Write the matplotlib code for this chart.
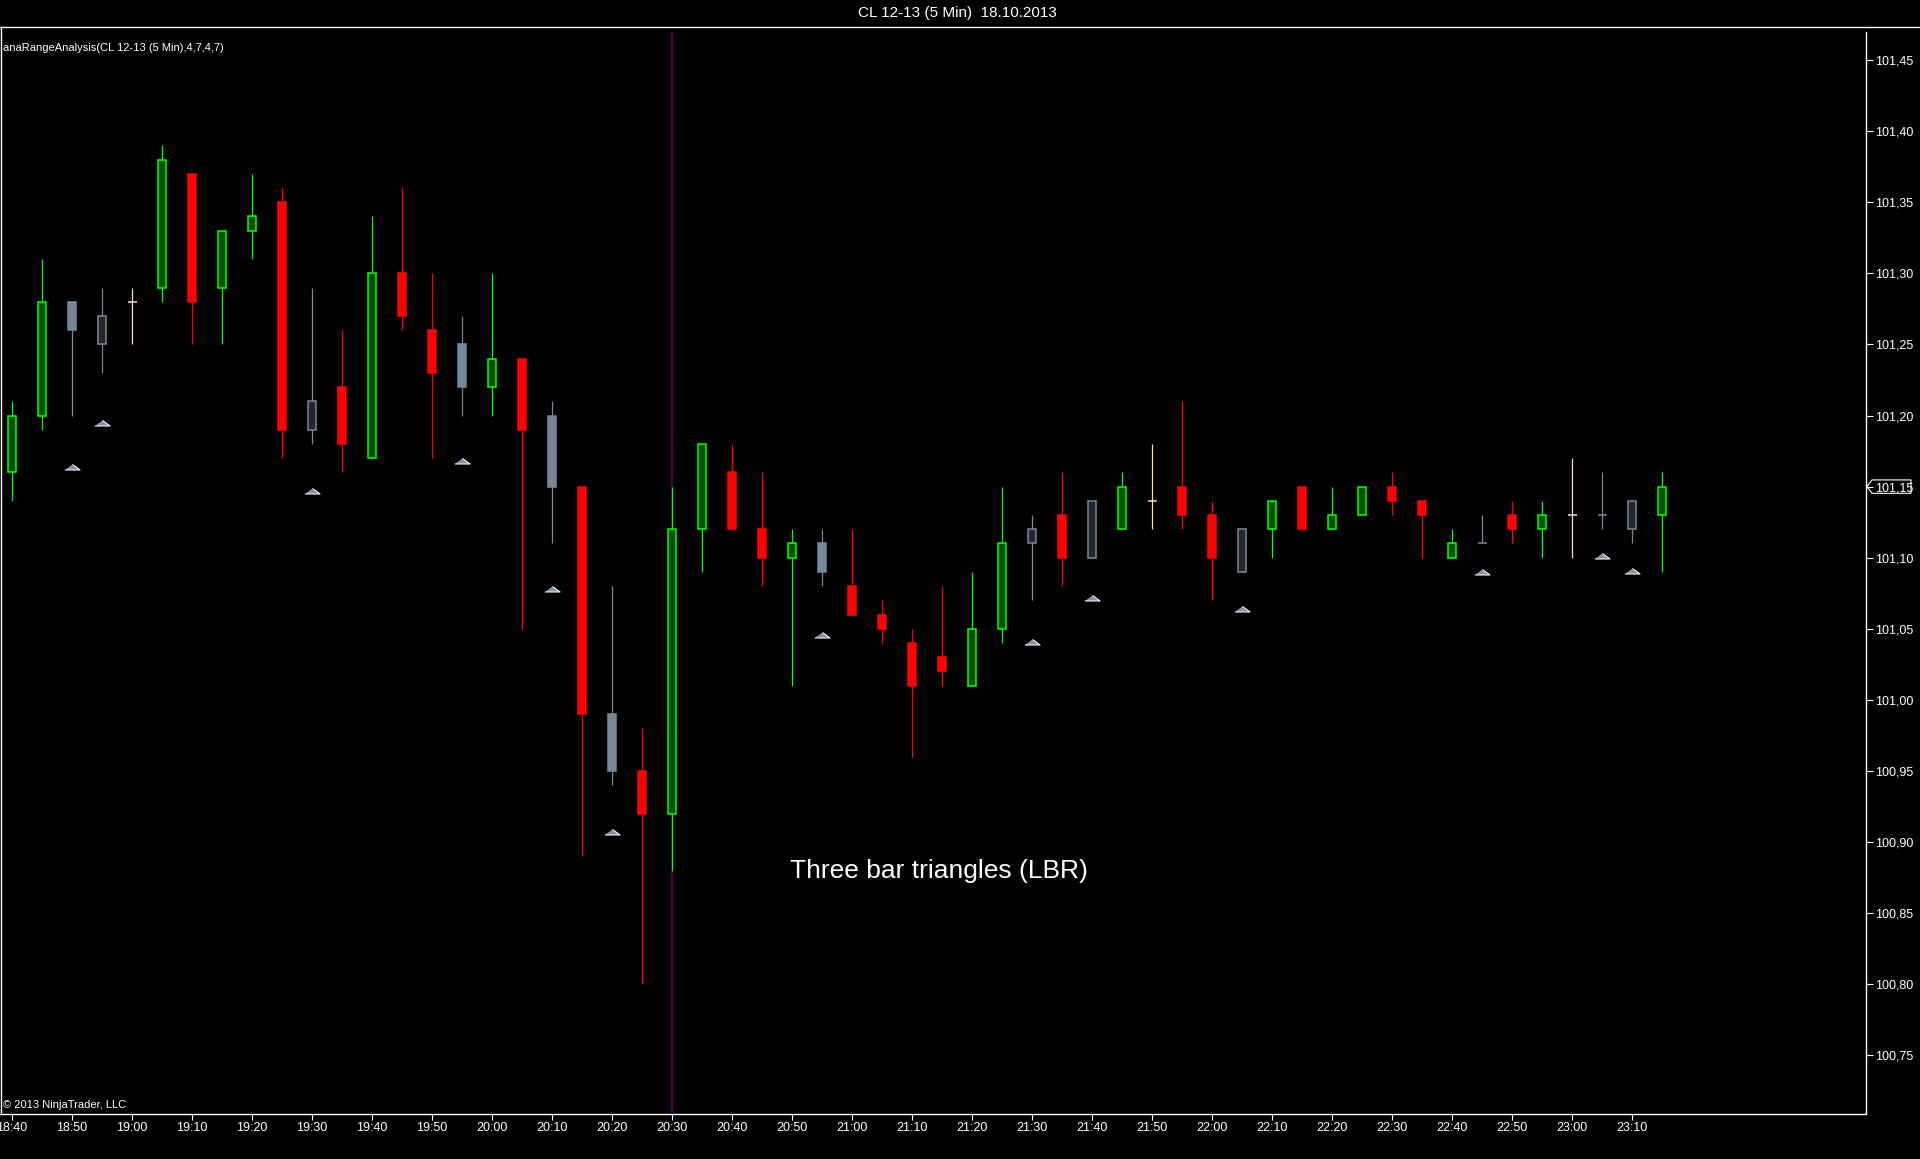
import matplotlib.pyplot as plt
from matplotlib.patches import Polygon
from matplotlib.lines import Line2D

plt.rcParams['font.family'] = ['Liberation Sans', 'DejaVu Sans']

# 5 min bars, CL 12-13, 18.10.2013 (18:40 .. 23:15)
opens = [101.16, 101.20, 101.28, 101.25, 101.28, 101.29, 101.37, 101.29, 101.33, 101.35,
         101.19, 101.22, 101.17, 101.30, 101.26, 101.25, 101.22, 101.24, 101.20, 101.15,
         100.99, 100.95, 100.92, 101.12, 101.16, 101.12, 101.10, 101.11, 101.08, 101.06,
         101.04, 101.03, 101.01, 101.05, 101.11, 101.13, 101.10, 101.12, 101.14, 101.15,
         101.13, 101.09, 101.12, 101.15, 101.12, 101.13, 101.15, 101.14, 101.10, 101.11,
         101.13, 101.12, 101.13, 101.13, 101.12, 101.13]
highs = [101.21, 101.31, 101.28, 101.29, 101.29, 101.39, 101.37, 101.33, 101.37, 101.36,
         101.29, 101.26, 101.34, 101.36, 101.30, 101.27, 101.30, 101.24, 101.21, 101.15,
         101.08, 100.98, 101.15, 101.18, 101.18, 101.16, 101.12, 101.12, 101.12, 101.07,
         101.05, 101.08, 101.09, 101.15, 101.13, 101.16, 101.14, 101.16, 101.18, 101.21,
         101.14, 101.12, 101.14, 101.15, 101.15, 101.15, 101.16, 101.14, 101.12, 101.13,
         101.14, 101.14, 101.17, 101.16, 101.14, 101.16]
lows = [101.14, 101.19, 101.20, 101.23, 101.25, 101.28, 101.25, 101.25, 101.31, 101.17,
        101.18, 101.16, 101.17, 101.26, 101.17, 101.20, 101.20, 101.05, 101.11, 100.89,
        100.94, 100.80, 100.88, 101.09, 101.12, 101.08, 101.01, 101.08, 101.06, 101.04,
        100.96, 101.01, 101.01, 101.04, 101.07, 101.08, 101.10, 101.12, 101.12, 101.12,
        101.07, 101.09, 101.10, 101.12, 101.12, 101.13, 101.13, 101.10, 101.10, 101.11,
        101.11, 101.10, 101.10, 101.12, 101.11, 101.09]
closes = [101.20, 101.28, 101.26, 101.27, 101.28, 101.38, 101.28, 101.33, 101.34, 101.19,
          101.21, 101.18, 101.30, 101.27, 101.23, 101.22, 101.24, 101.19, 101.15, 100.99,
          100.95, 100.92, 101.12, 101.18, 101.12, 101.10, 101.11, 101.09, 101.06, 101.05,
          101.01, 101.02, 101.05, 101.11, 101.12, 101.10, 101.14, 101.15, 101.14, 101.13,
          101.10, 101.12, 101.14, 101.12, 101.13, 101.15, 101.14, 101.13, 101.11, 101.11,
          101.12, 101.13, 101.13, 101.13, 101.14, 101.15]

# bars flagged by the indicator (drawn grey, triangle below)
flag_bars = [2, 3, 10, 15, 18, 20, 27, 34, 36, 41, 49, 53, 54]
flag_prices = [101.164, 101.195, 101.147, 101.168, 101.078, 100.907, 101.046,
               101.041, 101.072, 101.064, 101.090, 101.101, 101.091]

tick_labels = ['18:40', '18:50', '19:00', '19:10', '19:20', '19:30', '19:40', '19:50',
               '20:00', '20:10', '20:20', '20:30', '20:40', '20:50', '21:00', '21:10',
               '21:20', '21:30', '21:40', '21:50', '22:00', '22:10', '22:20', '22:30',
               '22:40', '22:50', '23:00', '23:10']
price_ticks = [100.75, 100.80, 100.85, 100.90, 100.95, 101.00, 101.05, 101.10,
               101.15, 101.20, 101.25, 101.30, 101.35, 101.40, 101.45]
marker_bar = 22  # vertical line 20:30

fig = plt.figure(figsize=(19.2, 11.59), dpi=100, facecolor='black')
ax = fig.add_axes([0.0, 0.038827, 0.971875, 0.933563])
ax.set_facecolor('black')

n = len(opens)
xs = list(range(n))
body_x, body_b, body_h, fills, edges = [], [], [], [], []
wick_c = []
doji_x, doji_y, doji_c = [], [], []
for i in xs:
    o, c = opens[i], closes[i]
    flagged = i in flag_bars
    if flagged:
        wc = '#778899'
        if c > o:
            fc, ec = '#23272d', '#778899'
        else:
            fc, ec = '#778899', '#778899'
        dc = '#778899'
    else:
        if c > o:
            fc, ec, wc = '#005000', '#00ff00', '#00ff00'
        else:
            fc, ec, wc = '#ff0000', '#ff0000', '#ff0000'
        dc = '#ffdab9'
    if abs(c - o) < 1e-9:
        wc = dc
        doji_x.append(i)
        doji_y.append(c)
        doji_c.append(dc)
    else:
        body_x.append(i)
        body_b.append(min(o, c))
        body_h.append(abs(c - o))
        fills.append(fc)
        edges.append(ec)
    wick_c.append(wc)

ax.axvline(marker_bar, color='#42003f', lw=1.6, zorder=1)
ax.vlines(xs, lows, highs, colors=wick_c, lw=0.9, zorder=2)
ax.bar(body_x, body_h, bottom=body_b, width=0.27, color=fills,
       edgecolor=edges, linewidth=1.1, zorder=3)
ax.hlines(doji_y, [x - 0.15 for x in doji_x], [x + 0.15 for x in doji_x],
          colors=doji_c, lw=1.1, zorder=3)

tri = [(-1, -0.33), (1, -0.33), (0, 0.4)]
ax.plot(flag_bars, flag_prices, linestyle='none', marker=tri, markersize=11,
        markerfacecolor='#8793a0', markeredgecolor='white', markeredgewidth=0.7,
        zorder=4)

ax.set_xlim(-0.4, 61.8)
ax.set_ylim(100.7088, 101.4697)

ax.set_xticks(range(0, 2 * len(tick_labels), 2))
ax.set_xticklabels(tick_labels)
ax.set_yticks(price_ticks)
ax.set_yticklabels([f'{p:.2f}'.replace('.', ',') for p in price_ticks])
ax.yaxis.tick_right()
ax.tick_params(axis='x', colors='white', labelcolor='white', length=4.3, width=0.8,
               pad=1.5, labelsize=9, direction='out')
ax.tick_params(axis='y', colors='white', labelcolor='white', length=5, width=0.8,
               pad=1.5, labelsize=9, direction='out')
for s in ['left', 'top']:
    ax.spines[s].set_visible(False)
for s in ['right', 'bottom']:
    ax.spines[s].set_color('white')
    ax.spines[s].set_linewidth(1.0)

# panel borders
fig.add_artist(Line2D([0, 1], [1 - 27 / 1159] * 2, color='white', lw=1.0,
                      transform=fig.transFigure))
fig.add_artist(Line2D([0.0003, 0.0003], [0.038827, 1 - 27 / 1159], color='white',
                      lw=1.0, transform=fig.transFigure))

# last price flag
last = closes[-1]
h = 0.0047
pw = 1 / 1866
flag = Polygon([(1 + 1 * pw, last), (1 + 6 * pw, last + h), (1 + 45 * pw, last + h),
                (1 + 45 * pw, last - h), (1 + 6 * pw, last - h)], closed=True,
               facecolor='black', edgecolor='white', lw=0.8,
               transform=ax.get_yaxis_transform(), clip_on=False, zorder=1)
ax.add_patch(flag)

fig.text(957 / 1920, 1 - 13.5 / 1159, 'CL 12-13 (5 Min)  18.10.2013', color='white',
         fontsize=11, ha='center', va='center')
ax.text(0.0015, 0.99, 'anaRangeAnalysis(CL 12-13 (5 Min),4,7,4,7)', color='white',
        fontsize=8, ha='left', va='top', transform=ax.transAxes)
ax.text(0.0015, 0.004, '© 2013 NinjaTrader, LLC', color='white', fontsize=8,
        ha='left', va='bottom', transform=ax.transAxes)
ax.text(25.93, 100.88, 'Three bar triangles (LBR)', color='white', fontsize=19,
        ha='left', va='center')

fig.savefig('out.png', dpi=100, facecolor='black')
